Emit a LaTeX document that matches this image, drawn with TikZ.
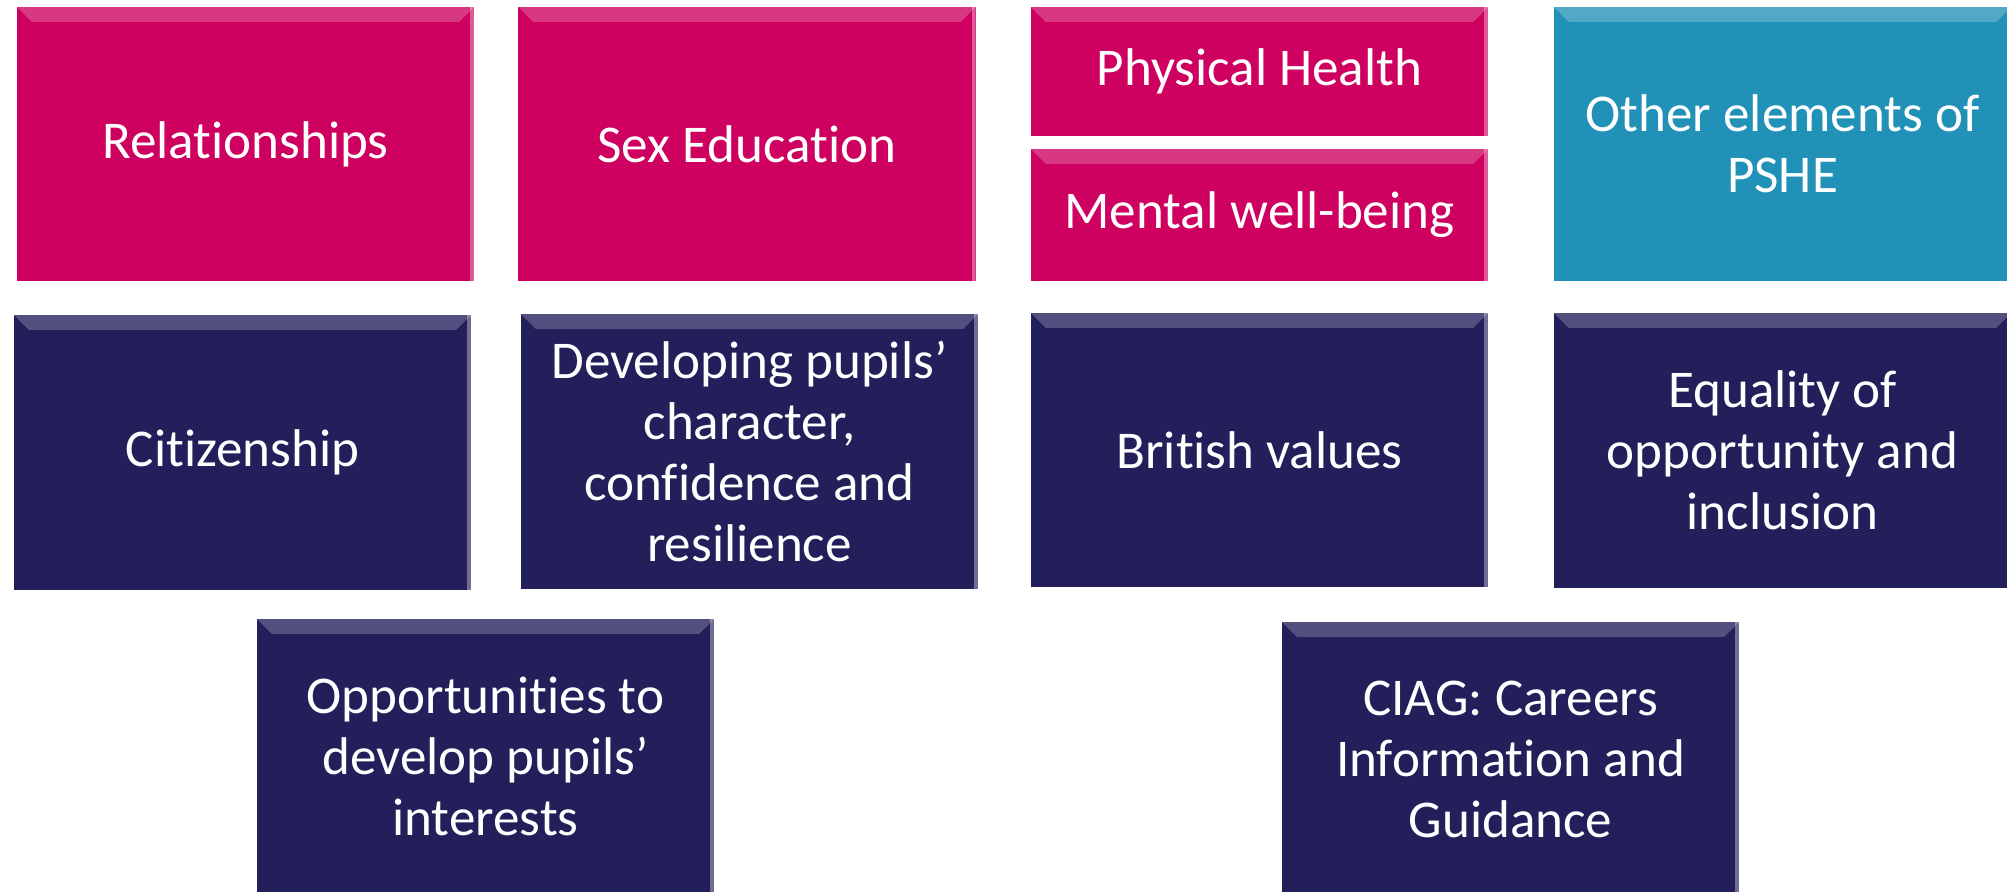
\documentclass[tikz,border=0pt]{standalone}
\usepackage{fontspec}
\setmainfont[Ligatures={NoCommon}]{Carlito}
\usepackage{xcolor}
\usetikzlibrary{positioning}

\definecolor{rsepink}{RGB}{206,0,96}
\definecolor{psheteal}{RGB}{34,145,183}
\definecolor{widenavy}{RGB}{34,31,90}

\begin{document}
\begin{tikzpicture}[x=0.01cm, y=-0.01cm,
  box/.style={minimum width=4.57cm, minimum height=2.74cm, inner sep=0pt,
    align=center, text=white, font=\fontsize{15.1pt}{17.3pt}\selectfont,
    path picture={
      \fill[white, opacity=0.22] (path picture bounding box.north west)
        -- (path picture bounding box.north east)
        -- ([xshift=-0.15cm, yshift=-0.15cm]path picture bounding box.north east)
        -- ([xshift=0.15cm, yshift=-0.15cm]path picture bounding box.north west) -- cycle;
      \fill[white, opacity=0.35] ([xshift=-0.04cm]path picture bounding box.north east)
        rectangle (path picture bounding box.south east);
    }},
  pinkbox/.style={box, fill=rsepink},
  tealbox/.style={box, fill=psheteal},
  navybox/.style={box, fill=widenavy}]

\useasboundingbox (0,0) rectangle (2007,891);

% row 1: RSE
\node[pinkbox] (relations) at (245.5,144) {Relationships};
\node[pinkbox] (sexed) at (747,144) {Sex Education};
\node[pinkbox, minimum height=1.29cm] (physical) at (1259.5,71.5) {Physical Health};
\node[pinkbox, minimum height=1.32cm] (mental) at (1259.5,215) {Mental well-being};
\node[tealbox] (otherpshe) at (1782.5,144) {Other elements of\\PSHE};

% row 2
\node[navybox, minimum height=2.75cm] (citizen) at (242.5,452.5) {Citizenship};
\node[navybox, minimum height=2.75cm] (character) at (749.5,451.5) {Developing pupils’\\character,\\confidence and\\resilience};
\node[navybox] (british) at (1259.5,450) {British values};
\node[navybox, minimum height=2.75cm] (equality) at (1782.5,450.5) {Equality of\\opportunity and\\inclusion};

% row 3
\node[navybox, minimum height=2.75cm] (interests) at (485.5,756.5) {Opportunities to\\develop pupils’\\interests};
\node[navybox, minimum height=2.75cm] (ciag) at (1510.5,759.5) {CIAG: Careers\\Information and\\Guidance};

\end{tikzpicture}
\end{document}
